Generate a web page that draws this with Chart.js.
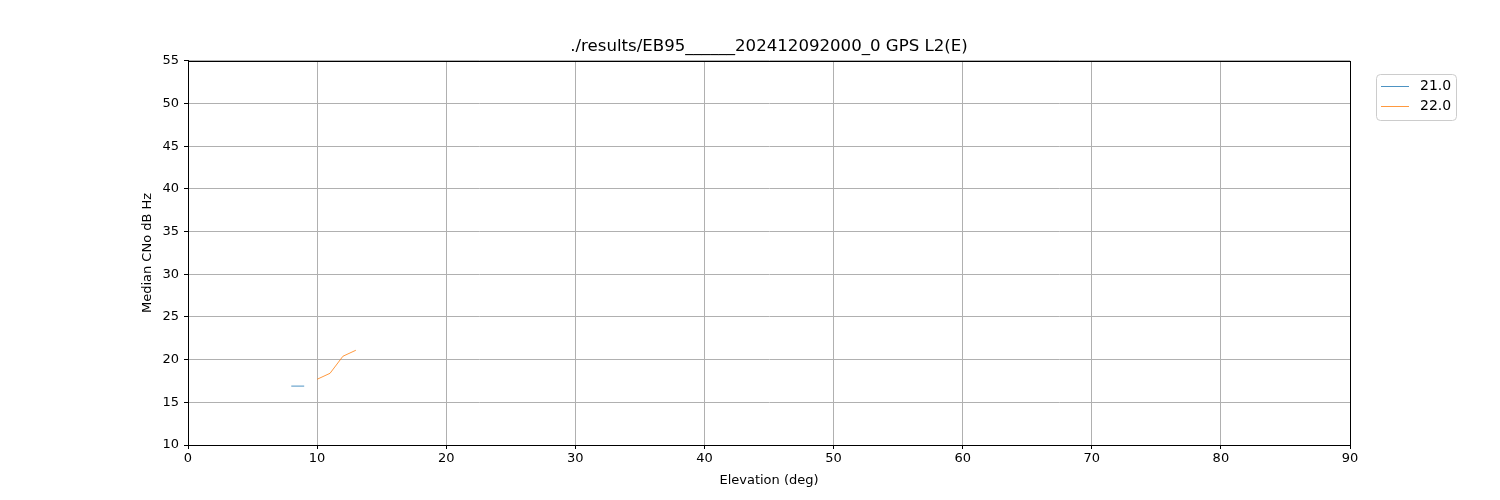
<!DOCTYPE html>
<html>
<head>
<meta charset="utf-8">
<script src="https://cdn.jsdelivr.net/npm/chart.js@4.4.0/dist/chart.umd.min.js"></script>
<style>
  html, body { margin: 0; padding: 0; background: #fff; }
  #wrap { width: 1500px; height: 500px; }
</style>
</head>
<body>
<div id="wrap"><canvas id="cno"></canvas></div>
<script>
// satellite ids in the legend
var satLabels = ['21.0', '22.0'];
// elevation (deg) and median CNo per satellite
var elev21 = [8, 9];
var cno21 = [16.9, 16.9];
var elev22 = [10, 11, 12, 13];
var cno22 = [17.7, 18.4, 20.4, 21.1];
var satColors = ['#1f77b4', '#ff7f0e'];

var xTicks = [0, 10, 20, 30, 40, 50, 60, 70, 80, 90];
var yTicks = [10, 15, 20, 25, 30, 35, 40, 45, 50, 55];

function toPoints(xs, ys) {
    return xs.map(function(x, i) { return { x: x, y: ys[i] }; });
}

var FONT = 'DejaVu Sans';

// frame round the plot area + matplotlib style legend box
var framePlugin = {
    id: 'frame',
    afterDraw: function(chart) {
        var ctx = chart.ctx;
        var a = chart.chartArea;
        ctx.save();
        ctx.strokeStyle = '#000';
        ctx.lineWidth = 1;
        ctx.strokeRect(Math.round(a.left) + 0.5, Math.round(a.top) + 0.5,
            Math.round(a.right - a.left), Math.round(a.bottom - a.top));

        // legend
        var lx = 1376.5, ly = 74.5, lw = 80, lh = 46, r = 4;
        ctx.beginPath();
        ctx.moveTo(lx + r, ly);
        ctx.arcTo(lx + lw, ly, lx + lw, ly + lh, r);
        ctx.arcTo(lx + lw, ly + lh, lx, ly + lh, r);
        ctx.arcTo(lx, ly + lh, lx, ly, r);
        ctx.arcTo(lx, ly, lx + lw, ly, r);
        ctx.closePath();
        ctx.fillStyle = 'rgba(255,255,255,0.8)';
        ctx.fill();
        ctx.strokeStyle = '#cccccc';
        ctx.stroke();

        ctx.font = '14px ' + FONT;
        ctx.textBaseline = 'middle';
        ctx.textAlign = 'left';
        chart.data.datasets.forEach(function(ds, i) {
            var y = 86.5 + i * 20;
            ctx.strokeStyle = ds.borderColor;
            ctx.lineWidth = 0.8;
            ctx.beginPath();
            ctx.moveTo(1381, y);
            ctx.lineTo(1409, y);
            ctx.stroke();
            ctx.fillStyle = '#000';
            ctx.fillText(ds.label, 1420, y);
        });
        ctx.restore();
    }
};

var ctx = document.getElementById('cno').getContext('2d');
var cnoChart = new Chart(ctx, {
    type: 'line',
    data: {
        datasets: [
            { label: satLabels[0], data: toPoints(elev21, cno21), borderColor: satColors[0], borderWidth: 0.8, pointRadius: 0, fill: false, tension: 0 },
            { label: satLabels[1], data: toPoints(elev22, cno22), borderColor: satColors[1], borderWidth: 0.8, pointRadius: 0, fill: false, tension: 0 }
        ]
    },
    options: {
        responsive: true,
        maintainAspectRatio: false,
        animation: false,
        layout: { padding: { left: 140, right: 150, top: 0, bottom: 12 } },
        plugins: {
            legend: { display: false },
            tooltip: { enabled: false },
            title: {
                display: true,
                fullSize: false,
                text: './results/EB95______202412092000_0 GPS L2(E)',
                color: '#000',
                font: { family: FONT, size: 16.6, weight: 'normal' },
                padding: { top: 37, bottom: 4 }
            }
        },
        scales: {
            x: {
                type: 'linear',
                min: 0, max: 90,
                afterBuildTicks: function(s) { s.ticks = xTicks.map(function(v) { return { value: v }; }); },
                afterFit: function(s) { s.height = 43; },
                ticks: { color: '#000', font: { family: FONT, size: 13 }, padding: 2, maxRotation: 0 },
                grid: { color: '#b0b0b0', lineWidth: 1, tickColor: '#000', tickLength: 4 },
                border: { color: '#000' },
                title: { display: true, text: 'Elevation (deg)', color: '#000', font: { family: FONT, size: 13 }, padding: { top: 0, bottom: 0 } }
            },
            y: {
                min: 10, max: 55,
                afterBuildTicks: function(s) { s.ticks = yTicks.map(function(v) { return { value: v }; }); },
                afterFit: function(s) { s.width = 48; },
                ticks: { color: '#000', font: { family: FONT, size: 13 }, padding: 5 },
                grid: { color: '#b0b0b0', lineWidth: 1, tickColor: '#000', tickLength: 4 },
                border: { color: '#000' },
                title: { display: true, text: 'Median CNo dB Hz', color: '#000', font: { family: FONT, size: 13 }, padding: { top: 0, bottom: 0 } }
            }
        }
    },
    plugins: [framePlugin]
});
</script>
</body>
</html>
